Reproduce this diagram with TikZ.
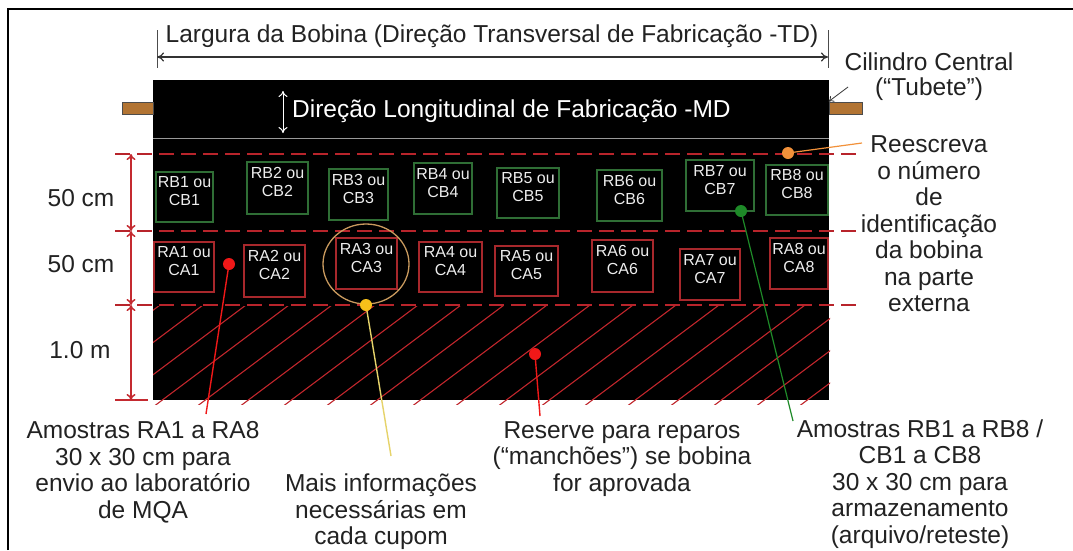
\documentclass[tikz,border=0pt]{standalone}
\usepackage{fontspec}
\setmainfont{Liberation Sans}
\usetikzlibrary{arrows.meta,fit,shapes.geometric}
\definecolor{dashred}{HTML}{B8242B}
\definecolor{dimred}{HTML}{C42A30}
\definecolor{hatchred}{HTML}{C0262C}
\definecolor{boxgreen}{HTML}{2F6E35}
\definecolor{boxred}{HTML}{A8282C}
\definecolor{dotred}{HTML}{F01818}
\definecolor{dotyel}{HTML}{F6C01A}
\definecolor{lineyel}{HTML}{E6D36A}
\definecolor{dotorg}{HTML}{F2913A}
\definecolor{dotgrn}{HTML}{1E8A28}
\definecolor{circtan}{HTML}{C99A5E}
\definecolor{tube}{HTML}{B27433}
\definecolor{txt}{HTML}{222222}
\begin{document}
\begin{tikzpicture}[x=1pt,y=-1pt,
  lbl/.style={font=\fontsize{24.5}{26.5}\selectfont, align=center, inner sep=0pt, text=txt},
  gbox/.style={draw=boxgreen, line width=1.2pt, inner sep=0pt, font=\fontsize{16}{18}\selectfont, text=white!93!black, align=center},
  rbox/.style={draw=boxred, line width=1.2pt, inner sep=0pt, font=\fontsize{16}{18}\selectfont, text=white!93!black, align=center},
  dot/.style={circle, inner sep=0pt, minimum size=12pt},
  dashl/.style={dashred, line width=2.6pt, dash pattern=on 15pt off 7pt},
  dim/.style={dimred, line width=1.5pt, {To[length=6pt,width=9pt]}-{To[length=6pt,width=9pt]}},
  hatch/.style={hatchred, line width=1.1pt},
  tubestyle/.style={fill=tube, draw=black!70, line width=0.8pt, inner sep=0pt}]
\useasboundingbox (0,0) rectangle (1073,550);
\fill[white] (0,0) rectangle (1073,550);
% frame
\draw[line width=2pt] (8,550) -- (8,9) -- (1073,9);

% title and width arrow
\node[lbl] (title) at (492,36) {Largura da Bobina (Direção Transversal de Fabricação -TD)};
\coordinate (wl) at (157,57);
\coordinate (wr) at (828,57);
\draw[black!70, line width=0.8pt] (157,30) -- (157,68);
\draw[black!70, line width=0.8pt] (828,30) -- (828,68);
\draw[black!80, line width=1.2pt, {To[length=7pt,width=9pt]}-{To[length=7pt,width=9pt]}] (wl) -- (wr);

% roll
\fill[black] (153,80) rectangle (829,400);
\draw[gray!80, line width=1pt] (153,138) -- (829,138);

% tubes
\node[tubestyle, fit={(122,102) (153,114)}] (tubeL) {};
\node[tubestyle, fit={(829,102) (862,114)}] (tubeR) {};
\node[lbl] (cil) at (929,62) {Cilindro Central};
\node[lbl] (tubelbl) at (929,89) {(“Tubete”)};
\coordinate (ta) at (848,87);
\draw[black!80, line width=0.8pt, -{To[length=5pt,width=7pt]}] (ta) -- (tubeR.north west);

% MD
\coordinate (md1) at (283,91);
\coordinate (md2) at (283,133);
\draw[white, line width=1pt, {To[length=6pt,width=9pt]}-{To[length=6pt,width=9pt]}] (md1) -- (md2);
\node[lbl, text=white, anchor=west] (md) at (292,111) {Direção Longitudinal de Fabricação -MD};

% hatching
\begin{scope}
\clip (153,306) rectangle (830,404);
\foreach \i in {-3,...,18} {
  \draw[hatch] ({203+43*\i+8},299) -- ({203+43*\i-140},410);
}
\end{scope}

% dashed lines
\coordinate (l1) at (131,154);
\coordinate (l2) at (131,231);
\coordinate (l3) at (131,305);
\coordinate (l4) at (131,400);
\draw[dashl] (115,154) -- (858,154);
\draw[dashl] (115,231) -- (858,231);
\draw[dashl] (115,305) -- (858,305);
\draw[dimred, line width=2pt] (115,400) -- (148,400);

% dimension arrows
\draw[dim] (l1) -- (l2);
\draw[dim] (l2) -- (l3);
\draw[dim] (l3) -- (l4);
\node[lbl] (d50a) at (81,198) {50 cm};
\node[lbl] (d50b) at (81,264) {50 cm};
\node[lbl] (d1m) at (80,350) {1.0 m};

% B boxes
\node[gbox, fit={(156,172) (213,222)}] (rb1) {RB1 ou\\CB1};
\node[gbox, fit={(247,162) (308,214)}] (rb2) {RB2 ou\\CB2};
\node[gbox, fit={(329,169) (388,220)}] (rb3) {RB3 ou\\CB3};
\node[gbox, fit={(414,163) (472,214)}] (rb4) {RB4 ou\\CB4};
\node[gbox, fit={(497,168) (559,218)}] (rb5) {RB5 ou\\CB5};
\node[gbox, fit={(597,170) (662,221)}] (rb6) {RB6 ou\\CB6};
\node[gbox, fit={(686,160) (754,211)}] (rb7) {RB7 ou\\CB7};
\node[gbox, fit={(766,165) (828,215)}] (rb8) {RB8 ou\\CB8};
% A boxes
\node[rbox, fit={(154,242) (214,292)}] (ra1) {RA1 ou\\CA1};
\node[rbox, fit={(244,245) (305,297)}] (ra2) {RA2 ou\\CA2};
\node[rbox, fit={(336,238) (397,289)}] (ra3) {RA3 ou\\CA3};
\node[rbox, fit={(419,242) (482,292)}] (ra4) {RA4 ou\\CA4};
\node[rbox, fit={(495,246) (558,296)}] (ra5) {RA5 ou\\CA5};
\node[rbox, fit={(592,240) (653,292)}] (ra6) {RA6 ou\\CA6};
\node[rbox, fit={(680,249) (740,300)}] (ra7) {RA7 ou\\CA7};
\node[rbox, fit={(770,238) (828,289)}] (ra8) {RA8 ou\\CA8};

% circle around RA3
\node[ellipse, draw=circtan, line width=1.3pt, minimum width=86pt, minimum height=80pt, inner sep=0pt] (circ) at (366,264) {};

% labels
\node[lbl] (lblA) at (143,472) {Amostras RA1 a RA8\\30 x 30 cm para\\envio ao laboratório\\de MQA};
\node[lbl] (lblM) at (381,512) {Mais informações\\necessárias em\\cada cupom};
\node[lbl] (lblR) at (622,459) {Reserve para reparos\\(“manchões”) se bobina\\for aprovada};
\node[lbl] (lblB) at (920,484) {Amostras RB1 a RB8 /\\CB1 a CB8\\30 x 30 cm para\\armazenamento\\(arquivo/reteste)};
\node[lbl] (lblE) at (929,224) {Reescreva\\o número\\de\\identificação\\da bobina\\na parte\\externa};

% pointer ends
\coordinate (e1) at (206,414);
\coordinate (e2) at (391,456);
\coordinate (e3) at (540,416);
\coordinate (e4) at (862,143);
\coordinate (e5) at (793,421);

% dots and leader lines
\node[dot] (p1) at (229,264) {};
\node[dot] (p2) at (366,305) {};
\node[dot] (p3) at (535,354) {};
\node[dot] (p4) at (788,153) {};
\node[dot] (p5) at (741,211) {};
\draw[dotred, line width=1.4pt] (p1.center) -- (e1);
\draw[lineyel, line width=1.4pt] (p2.center) -- (e2);
\draw[dotred, line width=1.4pt] (p3.center) -- (e3);
\draw[dotorg, line width=1.2pt] (p4.center) -- (e4);
\draw[dotgrn, line width=1.2pt] (p5.center) -- (e5);
\fill[dotred] (p1) circle (6);
\fill[dotyel] (p2) circle (6);
\fill[dotred] (p3) circle (6);
\fill[dotorg] (p4) circle (6);
\fill[dotgrn] (p5) circle (6);
\end{tikzpicture}
\end{document}
